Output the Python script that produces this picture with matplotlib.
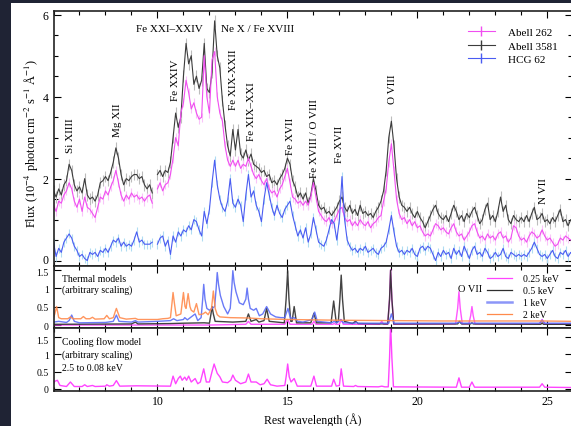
import numpy as np
import matplotlib
matplotlib.use('Agg')
import matplotlib.pyplot as plt
from matplotlib.lines import Line2D
from matplotlib.patches import Rectangle
from matplotlib.ticker import MultipleLocator
from matplotlib.transforms import ScaledTranslation

plt.rcParams['font.family'] = ['Liberation Serif', 'DejaVu Serif']
plt.rcParams['mathtext.fontset'] = 'stix'

# ---------------- data ----------------
wave = np.round(np.arange(6.0, 26.05, 0.1), 2)
nan = np.nan

abell3581 = [
    1.7, 1.55, 1.75, 1.6, 1.85, 1.95, 2.35, 2.2, 1.85, 1.7,
    1.8, 1.65, 2.0, 1.6, 1.5, 1.55, 1.45, 1.6, 1.9, 1.95,
    2.05, 1.95, 2.15, 2.4, 2.75, 2.5, 2.1, 1.85, 2.0, 1.95,
    2.05, 2.1, 2.1, 2.0, 2.05, 1.85, 1.75, 1.85, 1.65, nan,
    2.1, 2.2, 2.05, 2.2, 2.15, 2.4, 3.0, 3.6, 3.25, 3.5,
    4.5, 5.3, 4.8, 5.0, 4.3, 4.5, 4.2, 4.4, 5.3, 4.2,
    4.1, 4.6, 5.85, 5.0, 4.7, 3.9, 3.3, 2.8, 2.55, 3.2,
    2.7, 3.2, 2.6, 2.5, 2.7, 2.45, 2.6, 2.35, 2.3, 2.25,
    2.15, 2.2, 2.05, 2.1, 1.9, 1.95, 1.85, 2.0, 2.1, 2.25,
    2.5, 2.35, 1.95, 1.8, 1.55, 1.65, 1.5, 1.65, 1.4, 1.6,
    2.0, 1.7, 1.35, 1.25, 1.3, 1.15, 1.2, 1.1, 1.2, 1.3,
    1.45, 1.55, 1.3, 1.2, 1.35, 1.15, 1.25, 1.1, 1.35, 1.15,
    1.2, 1.1, 1.15, 1.05, 1.2, 1.3, 1.45, 1.7, 2.2, 3.0,
    3.4, 2.8, 2.0, 1.55, 1.35, 1.3, 1.2, 1.3, 1.15, 1.05,
    1.2, 1.05, 0.95, 0.8, 0.95, 1.1, 1.25, 1.35, 1.15, 1.05,
    1.0, 1.1, 0.95, 1.15, 1.35, 1.2, 1.0, 1.1, 0.95, 1.15,
    1.05, 1.2, 1.3, 1.1, 0.9, 1.0, 1.25, 1.4, 1.0, 1.1,
    0.95, 1.2, 1.55, 1.2, 1.35, 1.0, 0.9, 1.1, 1.0, 0.95,
    1.05, 0.95, 1.1, 0.95, 1.15, 1.3, 1.0, 1.05, 1.15, 0.95,
    1.0, 0.9, 1.05, 0.95, 1.1, 1.25, 0.95, 1.0, 0.85, 1.0, 0.95]

abell262 = [
    1.35, 1.2, 1.45, 1.4, 1.6, 1.7, 1.9, 1.75, 1.45, 1.3,
    1.5, 1.2, 1.55, 1.3, 1.25, 1.15, 1.05, 1.3, 1.55, 1.5,
    1.7, 1.6, 1.8, 1.95, 2.2, 1.9, 1.6, 1.45, 1.6, 1.5,
    1.65, 1.55, 1.6, 1.5, 1.55, 1.45, 1.55, 1.6, 1.4, nan,
    1.75, 1.9, 1.7, 1.85, 1.9, 2.1, 2.5, 3.0, 2.8, 3.6,
    3.85, 4.4, 4.1, 3.7, 3.85, 3.6, 3.45, 3.5, 5.0, 4.0,
    3.6, 4.9, 5.1, 4.0, 3.6, 3.4, 2.8, 2.45, 2.3, 2.45,
    2.3, 2.45, 2.25, 2.35, 2.3, 2.5, 2.3, 2.1, 2.0, 2.1,
    1.95, 1.85, 2.0, 1.75, 1.65, 1.7, 1.55, 1.75, 1.85, 2.05,
    2.25, 1.9, 1.55, 1.5, 1.4, 1.45, 1.35, 1.45, 1.35, 1.55,
    1.9, 1.55, 1.2, 1.1, 1.0, 0.95, 1.05, 0.9, 0.95, 1.1,
    1.25, 1.3, 1.05, 0.95, 1.0, 0.85, 0.95, 0.85, 1.0, 0.9,
    0.85, 0.95, 0.8, 0.9, 0.95, 1.05, 1.1, 1.45, 1.75, 2.4,
    2.85, 2.2, 1.5, 1.15, 1.0, 1.05, 0.9, 1.0, 0.85, 0.95,
    0.8, 0.85, 0.7, 0.6, 0.65, 0.6, 0.75, 0.9, 0.85, 0.75,
    0.8, 0.7, 0.65, 0.8, 0.9, 0.7, 0.6, 0.65, 0.5, 0.6,
    0.7, 0.85, 0.9, 0.7, 0.55, 0.6, 0.5, 0.65, 0.55, 0.6,
    0.5, 0.65, 0.7, 0.55, 0.6, 0.45, 0.55, 0.85, 0.8, 0.6,
    0.5, 0.55, 0.45, 0.6, 0.7, 0.65, 0.55, 0.6, 0.75, 0.6,
    0.5, 0.55, 0.45, 0.35, 0.4, 0.55, 0.5, 0.6, 0.55, 0.5, 0.55]

hcg62 = [
    0.45, 0.1, 0.3, 0.2, 0.45, 0.55, 0.65, 0.55, 0.35, 0.25,
    0.1, 0.15, 0.05, 0.0, 0.2, 0.15, 0.2, 0.1, 0.25, 0.2,
    0.3, 0.2, 0.35, 0.5, 0.45, 0.55, 0.35, 0.45, 0.35, 0.4,
    0.35, 0.5, 0.7, 0.45, 0.5, 0.4, 0.4, 0.4, 0.45, nan,
    0.4, 0.55, 0.6, 0.35, 0.5, 0.15, 0.6, 0.45, 0.7, 0.6,
    0.75, 0.7, 0.85, 0.75, 1.0, 0.95, 0.75, 0.6, 1.2, 0.9,
    1.25, 1.9, 2.45, 1.85, 1.5, 1.3, 1.2, 1.45, 2.0, 1.4,
    1.3, 1.5, 1.35, 0.95, 1.6, 2.1, 1.55, 1.7, 1.35, 1.2,
    0.95, 1.5, 1.9, 1.6, 1.3, 1.1, 1.35, 1.15, 1.05, 1.25,
    1.35, 1.45, 1.1, 0.85, 0.6, 0.75, 0.55, 0.8, 0.45, 0.65,
    1.05, 0.75, 0.45, 0.4, 0.35, 0.5, 0.75, 1.0, 0.9, 0.5,
    1.0, 2.05, 1.0, 0.5, 0.35, 0.25, 0.3, 0.2, 0.3, 0.25,
    0.35, 0.2, 0.25, 0.3, 0.2, 0.15, 0.3, 0.35, 0.45, 0.75,
    1.1, 0.7, 0.35, 0.2, 0.25, 0.15, 0.25, 0.2, 0.3, 0.15,
    0.1, 0.3, 0.35, 0.25, 0.35, 0.3, 0.15, 0.0, 0.2, 0.1,
    0.25, 0.15, 0.2, 0.05, 0.3, 0.15, 0.25, 0.1, 0.35, 0.2,
    0.05, 0.25, 0.35, 0.15, 0.2, 0.1, 0.3, 0.2, 0.05, 0.1,
    0.2, 0.1, 0.15, 0.3, 0.1, 0.05, 0.2, 0.15, 0.1, 0.15,
    0.1, 0.15, 0.1, 0.2, 0.3, 0.45, 0.3, 0.15, 0.1, 0.15,
    0.05, 0.15, 0.25, 0.1, 0.05, 0.2, 0.15, 0.25, 0.1, 0.2, 0.1]

err_abell3581 = 0.14
err_abell262 = 0.11
err_hcg62 = 0.11

# thermal model curves (wavelength, arbitrary flux)
model_2kev = [(6.0, 0.2), (6.05, 0.3), (6.12, 0.5), (6.2, 0.2), (6.3, 0.17), (6.55, 0.17),
              (6.65, 0.22), (6.75, 0.17), (7.05, 0.17), (7.15, 0.23), (7.25, 0.17), (7.4, 0.17),
              (7.5, 0.21), (7.6, 0.16), (7.95, 0.17), (8.05, 0.26), (8.15, 0.17), (8.3, 0.2),
              (8.37, 0.35), (8.42, 0.45), (8.47, 0.35), (8.55, 0.2), (8.8, 0.16), (9.15, 0.18),
              (9.25, 0.15), (10.0, 0.15), (10.2, 0.17), (10.4, 0.18), (10.5, 0.2), (10.56, 0.6),
              (10.6, 0.88), (10.65, 0.6), (10.72, 0.25), (10.9, 0.3), (10.96, 0.65), (11.0, 0.88),
              (11.06, 0.5), (11.1, 0.45), (11.18, 0.85), (11.25, 0.5), (11.3, 0.4), (11.4, 0.35),
              (11.5, 0.58), (11.6, 0.28), (11.75, 0.3), (11.85, 0.35), (11.95, 0.28), (12.08, 0.45),
              (12.15, 0.92), (12.22, 0.45), (12.3, 0.28), (12.4, 0.22), (12.8, 0.2), (13.5, 0.19),
              (14.0, 0.17), (15.0, 0.15), (17.0, 0.13), (19.0, 0.12), (21.0, 0.11), (24.8, 0.11),
              (26.0, 0.1)]
model_1kev = [(6.0, 0.08), (6.2, 0.1), (6.5, 0.07), (6.6, 0.12), (6.7, 0.27), (6.8, 0.1),
              (7.0, 0.06), (8.0, 0.07), (8.3, 0.1), (8.42, 0.27), (8.52, 0.1), (9.0, 0.08),
              (9.15, 0.12), (9.25, 0.08), (10.0, 0.1), (10.5, 0.12), (10.62, 0.17), (10.75, 0.12),
              (11.0, 0.15), (11.05, 0.2), (11.15, 0.14), (11.45, 0.3), (11.55, 0.12), (11.68, 0.2),
              (11.74, 0.7), (11.78, 1.1), (11.83, 0.7), (11.9, 0.45), (12.0, 0.4), (12.1, 0.45),
              (12.2, 0.5), (12.26, 1.0), (12.3, 1.42), (12.35, 1.1), (12.42, 0.8), (12.55, 0.5),
              (12.7, 0.3), (12.8, 0.45), (12.86, 1.0), (12.9, 1.47), (12.95, 1.15), (13.02, 0.9),
              (13.15, 0.6), (13.3, 0.55), (13.4, 0.7), (13.45, 1.0), (13.5, 0.7), (13.57, 0.45),
              (13.7, 0.4), (13.8, 0.45), (13.92, 0.25), (14.05, 0.3), (14.2, 0.5), (14.35, 0.3),
              (14.55, 0.22), (14.75, 0.2), (14.9, 0.2), (15.02, 0.45), (15.12, 0.18), (15.26, 0.2),
              (15.4, 0.1), (15.6, 0.08), (15.95, 0.15), (16.05, 0.35), (16.15, 0.1), (16.7, 0.06),
              (16.8, 0.1), (16.9, 0.06), (17.05, 0.15), (17.15, 0.06), (17.6, 0.05), (17.65, 0.08),
              (17.7, 0.05), (18.9, 0.05), (19.0, 0.3), (19.1, 0.05), (21.5, 0.05), (21.6, 0.08),
              (21.7, 0.05), (24.7, 0.05), (24.8, 0.13), (24.9, 0.05), (26.0, 0.05)]
model_05kev = [(6.0, 0.02), (9.0, 0.03), (9.15, 0.08), (9.25, 0.03), (10.5, 0.04), (11.0, 0.05),
               (11.8, 0.06), (12.0, 0.05), (12.06, 0.3), (12.1, 0.5), (12.15, 0.3), (12.22, 0.1),
               (12.9, 0.08), (13.4, 0.1), (13.5, 0.3), (13.6, 0.1), (13.8, 0.15), (13.9, 0.08),
               (14.1, 0.12), (14.2, 0.45), (14.3, 0.1), (14.88, 0.06), (14.95, 0.7), (15.01, 1.47),
               (15.06, 0.7), (15.13, 0.1), (15.18, 0.1), (15.26, 0.5), (15.35, 0.06), (15.9, 0.06),
               (16.02, 0.32), (16.12, 0.06), (16.68, 0.06), (16.78, 0.65), (16.88, 0.06), (16.96, 0.1),
               (17.02, 0.7), (17.07, 1.35), (17.12, 0.7), (17.19, 0.1), (17.5, 0.04), (17.62, 0.1),
               (17.72, 0.04), (18.86, 0.03), (18.93, 0.7), (18.97, 1.48), (19.02, 0.7), (19.09, 0.03),
               (21.55, 0.03), (21.62, 0.1), (21.7, 0.03), (22.05, 0.03), (22.1, 0.06), (22.15, 0.03),
               (24.75, 0.02), (24.8, 0.06), (24.85, 0.02), (26.0, 0.02)]
model_025kev = [(6.0, 0.0), (12.0, 0.0), (13.4, 0.02), (13.5, 0.1), (13.6, 0.02), (14.9, 0.02),
                (15.01, 0.15), (15.1, 0.02), (15.95, 0.02), (16.02, 0.1), (16.1, 0.02), (16.75, 0.02),
                (16.8, 0.05), (16.85, 0.02), (17.0, 0.02), (17.07, 0.15), (17.15, 0.02), (18.55, 0.02),
                (18.63, 0.1), (18.7, 0.02), (18.86, 0.02), (18.93, 0.7), (18.97, 1.5), (19.02, 0.7),
                (19.09, 0.02), (21.47, 0.03), (21.55, 0.45), (21.6, 0.9), (21.65, 0.45), (21.73, 0.03),
                (21.98, 0.03), (22.05, 0.25), (22.1, 0.5), (22.15, 0.25), (22.22, 0.03), (24.7, 0.03),
                (24.8, 0.15), (24.9, 0.03), (26.0, 0.03)]
cooling_flow = [(6.0, 0.15), (6.05, 0.22), (6.15, 0.25), (6.25, 0.1), (6.5, 0.07), (6.65, 0.2),
                (6.8, 0.07), (7.1, 0.07), (7.2, 0.12), (7.3, 0.07), (7.5, 0.1), (7.6, 0.07),
                (8.0, 0.08), (8.05, 0.12), (8.15, 0.08), (8.3, 0.1), (8.42, 0.24), (8.55, 0.08),
                (9.2, 0.09), (10.5, 0.08), (10.6, 0.37), (10.7, 0.15), (10.8, 0.3), (10.88, 0.37),
                (10.95, 0.25), (11.05, 0.34), (11.12, 0.25), (11.2, 0.37), (11.3, 0.2), (11.45, 0.3),
                (11.55, 0.15), (11.65, 0.2), (11.78, 0.58), (11.88, 0.2), (12.0, 0.2), (12.1, 0.5),
                (12.18, 0.72), (12.3, 0.45), (12.4, 0.35), (12.5, 0.2), (12.7, 0.18), (12.82, 0.25),
                (12.9, 0.4), (13.0, 0.25), (13.2, 0.15), (13.4, 0.2), (13.5, 0.43), (13.6, 0.2),
                (13.8, 0.2), (13.95, 0.12), (14.1, 0.15), (14.22, 0.28), (14.35, 0.12), (14.6, 0.08),
                (14.9, 0.1), (14.96, 0.4), (15.01, 0.72), (15.07, 0.35), (15.14, 0.2), (15.26, 0.3),
                (15.38, 0.08), (15.9, 0.08), (16.02, 0.37), (16.12, 0.08), (16.7, 0.08), (16.78, 0.28),
                (16.88, 0.08), (17.0, 0.1), (17.07, 0.58), (17.16, 0.08), (17.55, 0.07), (17.62, 0.1),
                (17.7, 0.07), (18.5, 0.06), (18.63, 0.08), (18.75, 0.06), (18.88, 0.06), (18.93, 0.9),
                (18.97, 1.9), (19.02, 0.9), (19.08, 0.06), (21.5, 0.05), (21.6, 0.32), (21.7, 0.05),
                (22.0, 0.05), (22.1, 0.2), (22.2, 0.05), (24.7, 0.05), (24.8, 0.15), (24.9, 0.05),
                (26.0, 0.04)]

# line labels: (text, wavelength, flux, rotation)
line_labels = [("Si XIIII", 6.64, 2.66, 90), ("Mg XII", 8.47, 3.05, 90),
               ("Fe XXIV", 10.68, 3.93, 90), ("Fe XIX-XXII", 12.91, 3.71, 90),
               ("Fe XIX\u2013XXI", 13.63, 2.95, 90), ("Fe XVII", 15.1, 2.61, 90),
               ("Fe XVIII / O VIII", 16.03, 2.03, 90), ("Fe XVII", 17.02, 2.41, 90),
               ("O VIII", 19.05, 3.85, 90), ("N VII", 24.87, 1.41, 90)]
top_labels = [("Fe XXI\u2013XXIV", 10.45, 5.66), ("Ne X / Fe XVIII", 13.87, 5.66)]

# ---------------- styling ----------------
c262, c3581, c62 = '#f04ef0', '#3c3c3c', '#4a5cf2'
e262, e3581, e62 = '#f9c4f9', '#bcbcbc', '#b0dcf2'
c025, c05, c1, c2 = '#ff44ff', '#2e2e2e', '#5a6cf6', '#ff8a4c'

W, H = 571, 427
fig = plt.figure(figsize=(W / 100, H / 100), dpi=100)
fig.patch.set_facecolor('white')

left_px, right_px = 53.5, 572.0
def ax_rect(top_px, bot_px):
    return [left_px / W, 1 - bot_px / H, (right_px - left_px) / W, (bot_px - top_px) / H]

ax1 = fig.add_axes(ax_rect(12, 266.5))
ax2 = fig.add_axes(ax_rect(266.5, 329))
ax3 = fig.add_axes(ax_rect(329, 392))

xlim = (6.0, 25.95)
for ax in (ax1, ax2, ax3):
    ax.set_xlim(*xlim)
    ax.xaxis.set_major_locator(MultipleLocator(5))
    ax.xaxis.set_minor_locator(MultipleLocator(1))
    ax.tick_params(which='both', direction='in', top=True, right=True, width=0.8)
    ax.tick_params(which='major', length=5)
    ax.tick_params(which='minor', length=3)
    for s in ax.spines.values():
        s.set_linewidth(1.2)
        s.set_color('#222222')

# top panel
ax1.errorbar(wave, abell3581, yerr=err_abell3581, fmt='none', ecolor=e3581, elinewidth=0.8, capsize=0)
ax1.errorbar(wave, abell262, yerr=err_abell262, fmt='none', ecolor=e262, elinewidth=0.8, capsize=0)
ax1.errorbar(wave, hcg62, yerr=err_hcg62, fmt='none', ecolor=e62, elinewidth=0.8, capsize=0)
ax1.plot(wave, abell3581, color=c3581, lw=0.8)
ax1.plot(wave, abell262, color=c262, lw=0.8)
ax1.plot(wave, hcg62, color=c62, lw=0.8)
ax1.set_ylim(-0.12, 6.09)
ax1.set_yticks([0, 2, 4, 6])
ax1.yaxis.set_minor_locator(MultipleLocator(0.5))
ax1.tick_params(axis='y', labelsize=8.5)
ax1.tick_params(axis='x', labelbottom=False)
ax1.set_ylabel(r'Flux (10$^{-4}$ photon cm$^{-2}$ s$^{-1}$ Å$^{-1}$)', fontsize=9)
ax1.yaxis.set_label_coords((41 - left_px) / (right_px - left_px), 0.485)

for txt, x, y, rot in line_labels:
    ax1.text(x, y, txt, rotation=rot, ha='center', va='bottom', fontsize=8)
for txt, x, y in top_labels:
    ax1.text(x, y, txt, ha='center', va='center', fontsize=8)

handles = [Line2D([], [], color=c262, marker='|', markersize=7, lw=0.8),
           Line2D([], [], color=c3581, marker='|', markersize=7, lw=0.8),
           Line2D([], [], color=c62, marker='|', markersize=7, lw=0.8)]
ax1.legend(handles, ['Abell 262', 'Abell 3581', 'HCG 62'], loc='upper left',
           bbox_to_anchor=((468 - left_px) / (right_px - left_px), 0.935),
           frameon=False, fontsize=8, handlelength=2.4, handletextpad=1.2,
           borderpad=0, borderaxespad=0, labelspacing=0.32)

# middle panel (thermal models)
for m, c in ((model_025kev, c025), (model_05kev, c05), (model_1kev, c1), (model_2kev, c2)):
    xs, ys = zip(*m)
    ax2.plot(xs, ys, color=c, lw=1.0, alpha=0.9)
ax2.set_ylim(-0.08, 1.61)
ax2.set_yticks([0, 0.5, 1, 1.5])
ax2.set_yticklabels(['0', '0.5', '1', '1.5'])
ax2.tick_params(axis='y', labelsize=7)
ax2.tick_params(axis='x', labelbottom=False)
ax2.text(0.017, 0.87, 'Thermal models\n(arbitrary scaling)', transform=ax2.transAxes,
         ha='left', va='top', fontsize=7, linespacing=1.3)
ax2.text(22.03, 1.0, 'O VII', ha='center', va='center', fontsize=7.5)
mh = [Line2D([], [], color=c025, lw=0.9), Line2D([], [], color=c05, lw=0.9),
      Line2D([], [], color='#8c96f8', lw=1.8), Line2D([], [], color=c2, lw=0.9)]
ax2.legend(mh, ['0.25 keV', '0.5 keV', '1 keV', '2 keV'], loc='upper left',
           bbox_to_anchor=((487 - left_px) / (right_px - left_px), 0.86),
           frameon=False, fontsize=7, handlelength=2.6, handletextpad=1.1,
           borderpad=0, borderaxespad=0, labelspacing=0.3)

# bottom panel (cooling flow)
xs, ys = zip(*cooling_flow)
ax3.plot(xs, ys, color=c025, lw=1.0)
ax3.set_ylim(-0.06, 1.76)
ax3.set_yticks([0, 0.5, 1, 1.5])
ax3.set_yticklabels(['0', '0.5', '1', '1.5'])
ax3.tick_params(axis='y', labelsize=7)
ax3.tick_params(axis='x', labelsize=8.5, pad=3)
ax3.text(0.017, 0.875, 'Cooling flow model\n(arbitrary scaling)\n2.5 to 0.08 keV',
         transform=ax3.transAxes, ha='left', va='top', fontsize=7, linespacing=1.55)
ax3.set_xlabel('Rest wavelength (Å)', fontsize=8.5, labelpad=4)

# small nudges so adjacent panel tick labels do not collide
up = ScaledTranslation(0, 1.5 / 72, fig.dpi_scale_trans)
down = ScaledTranslation(0, -1.5 / 72, fig.dpi_scale_trans)
t0 = ax1.yaxis.get_major_ticks()[0].label1
t0.set_transform(t0.get_transform() + up)
t15 = ax2.yaxis.get_major_ticks()[3].label1
t15.set_transform(t15.get_transform() + down)
t15b = ax3.yaxis.get_major_ticks()[3].label1
t15b.set_transform(t15b.get_transform() + down)

# dark page border
fig.patches.append(Rectangle((0, 0), 11 / W, 1, transform=fig.transFigure,
                             facecolor='#1f2334', edgecolor='none', zorder=-1))
fig.patches.append(Rectangle((0, 1 - 3.5 / H), 1, 3.5 / H, transform=fig.transFigure,
                             facecolor='#1f2334', edgecolor='none', zorder=-1))

fig.savefig('out.png', dpi=100)
